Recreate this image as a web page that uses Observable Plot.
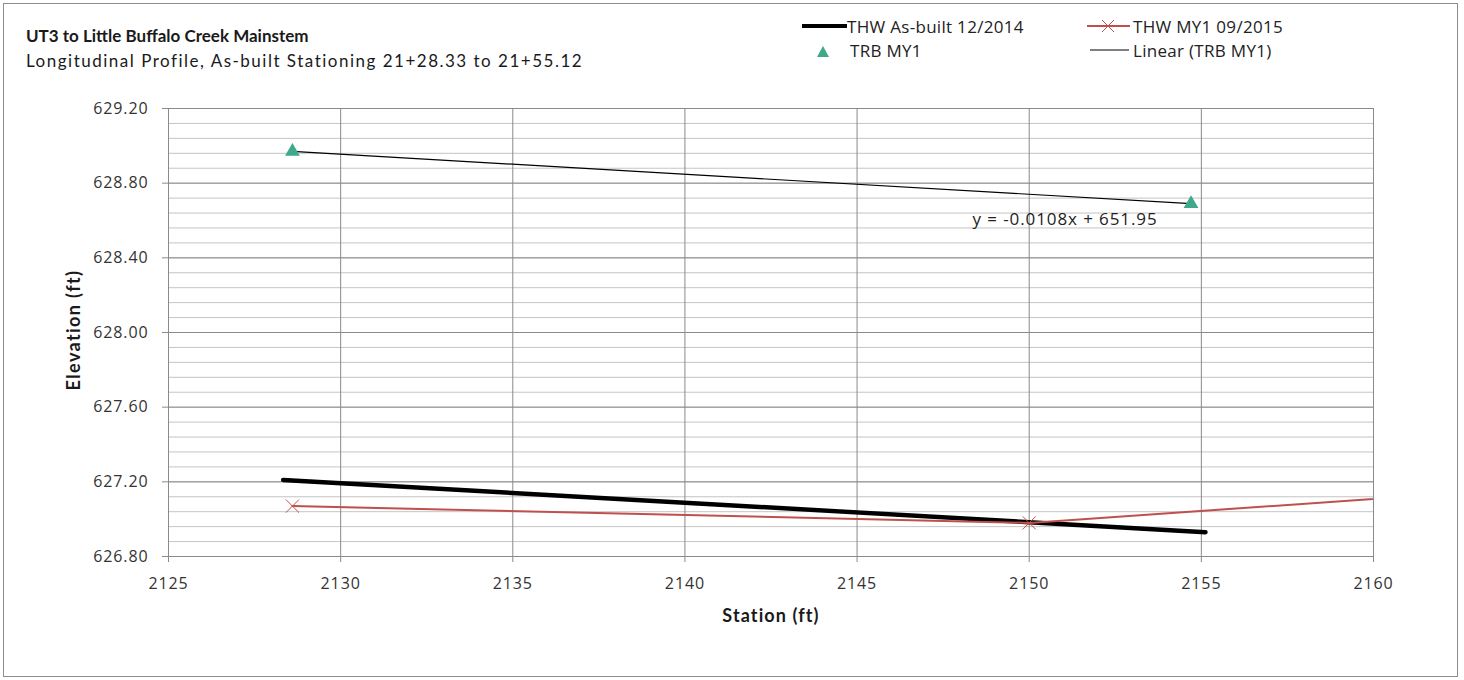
<!DOCTYPE html>
<html>
<head>
<meta charset="utf-8">
<script src="https://cdn.jsdelivr.net/npm/d3@7"></script>
<script src="https://cdn.jsdelivr.net/npm/@observablehq/plot@0.6"></script>
<style>
  html, body { margin: 0; padding: 0; background: #fff; }
  #wrap { position: relative; width: 1464px; height: 680px; overflow: hidden; background: #fff; }
  #wrap svg { position: absolute; left: 0; top: 0; }
  #wrap svg text { letter-spacing: 0.9px; }
  .abs { position: absolute; white-space: nowrap; }
  .vc { transform: translateY(-50%); }
  .t { font-family: Lato, "Open Sans", sans-serif; color: #1a1a1a; }
  .lg { font-family: "Open Sans", sans-serif; font-size: 17px; letter-spacing: 0.3px; color: #222; }
  #border { position: absolute; left: 3px; top: 3px; width: 1453px; height: 672px; border: 1px solid #8c8c8c; pointer-events: none; }
</style>
</head>
<body>
<div id="wrap">
  <div id="border"></div>
  <div class="abs vc t" style="left:26px; top:35px; font-size:17px; font-weight:bold;">UT3 to Little Buffalo  Creek Mainstem</div>
  <div class="abs vc t" style="left:26px; top:60px; font-size:17px; letter-spacing:1.5px;">Longitudinal Profile, As-built Stationing 21+28.33 to 21+55.12</div>

  <!-- legend -->
  <svg class="abs" style="left:800px; top:18px;" width="50" height="16"><line x1="2" x2="47" y1="8" y2="8" stroke="#000" stroke-width="4"/></svg>
  <div class="abs vc lg" style="left:847px; top:26px;">THW As-built 12/2014</div>
  <svg class="abs" style="left:1084px; top:18px;" width="50" height="16"><line x1="3" x2="46" y1="8" y2="8" stroke="#c0504d" stroke-width="2"/><path d="M18,2L30,14M30,2L18,14" stroke="#c0504d" stroke-width="1"/></svg>
  <div class="abs vc lg" style="left:1133px; top:26px;">THW MY1 09/2015</div>
  <svg class="abs" style="left:815px; top:44px;" width="16" height="16"><path d="M8,2L14,13L2,13Z" fill="#3fa98b"/></svg>
  <div class="abs vc lg" style="left:850px; top:50px;">TRB MY1</div>
  <svg class="abs" style="left:1088px; top:42px;" width="44" height="16"><line x1="2" x2="41" y1="8" y2="8" stroke="#000" stroke-width="1"/></svg>
  <div class="abs vc lg" style="left:1133px; top:50px;">Linear (TRB MY1)</div>

  <!-- axis titles -->
  <div class="abs t" style="left:73px; top:330px; font-size:18px; font-weight:bold; letter-spacing:1.4px; transform: translate(-50%,-50%) rotate(-90deg);">Elevation (ft)</div>
  <div class="abs t" style="left:771px; top:615px; font-size:18px; font-weight:bold; letter-spacing:1.1px; transform: translate(-50%,-50%);">Station (ft)</div>
</div>
<script>
// ---- data ----
const xTicks = [2125, 2130, 2135, 2140, 2145, 2150, 2155, 2160];
const yTicks = [626.8, 627.2, 627.6, 628.0, 628.4, 628.8, 629.2];
const yMinorTicks = d3.range(0, 31).map(i => +(626.8 + i * 0.08).toFixed(2));

const asBuiltStation = [2128.33, 2155.12];
const asBuiltElev    = [627.21, 626.93];

const my1Station = [2128.6, 2150.0, 2164.8];
const my1Elev    = [627.07, 626.98, 627.17];

const trbStation = [2128.6, 2154.7];
const trbElev    = [628.97, 628.69];

const trendLabel = "y = -0.0108x + 651.95";

// ---- tables ----
const asBuilt = asBuiltStation.map((x, i) => ({x, y: asBuiltElev[i]}));
const my1 = my1Station.map((x, i) => ({x, y: my1Elev[i]}));
const trb = trbStation.map((x, i) => ({x, y: trbElev[i]}));

const red = "#c0504d";
const grid = "#8a8a8a";

const chart = Plot.plot({
  width: 1464,
  height: 680,
  marginLeft: 168,
  marginRight: 91,
  marginTop: 108,
  marginBottom: 124,
  style: {fontFamily: "'Open Sans', sans-serif", fontSize: "16px", color: "#333", background: "transparent"},
  x: {domain: [2125, 2160]},
  y: {domain: [626.8, 629.2]},
  marks: [
    Plot.gridY(yMinorTicks, {stroke: "#c4c4c4", strokeOpacity: 1}),
    Plot.gridY(yTicks, {stroke: grid, strokeOpacity: 1}),
    Plot.gridX(xTicks, {stroke: grid, strokeOpacity: 1}),
    Plot.ruleX([2125], {stroke: grid}),
    Plot.ruleY([626.8], {stroke: grid}),
    Plot.axisX({ticks: xTicks, tickSize: 6, tickPadding: 15, tickFormat: d => String(d), label: null, stroke: grid, fill: "#333", fontSize: 16}),
    Plot.axisY({ticks: yTicks, tickSize: 6, tickPadding: 14, tickFormat: d => d.toFixed(2), label: null, stroke: grid, fill: "#333", fontSize: 16}),
    Plot.line(asBuilt, {x: "x", y: "y", stroke: "#000", strokeWidth: 4.5}),
    Plot.line(my1, {x: "x", y: "y", stroke: red, strokeWidth: 2, clip: true}),
    Plot.dot(my1, {x: "x", y: "y", symbol: "times", r: 6, stroke: red, strokeWidth: 1, clip: true}),
    Plot.linearRegressionY(trb, {x: "x", y: "y", stroke: "#000", strokeWidth: 1.2, ci: 0}),
    Plot.dot(trb, {x: "x", y: "y", symbol: "triangle", r: 5.5, fill: "#3fa98b", stroke: "none"}),
    Plot.text(trb.slice(-1), {x: "x", y: "y", text: () => trendLabel, dx: -126, dy: 16, fontSize: 17, fill: "#222", textAnchor: "middle"})
  ]
});
document.getElementById("wrap").appendChild(chart);
</script>
</body>
</html>
